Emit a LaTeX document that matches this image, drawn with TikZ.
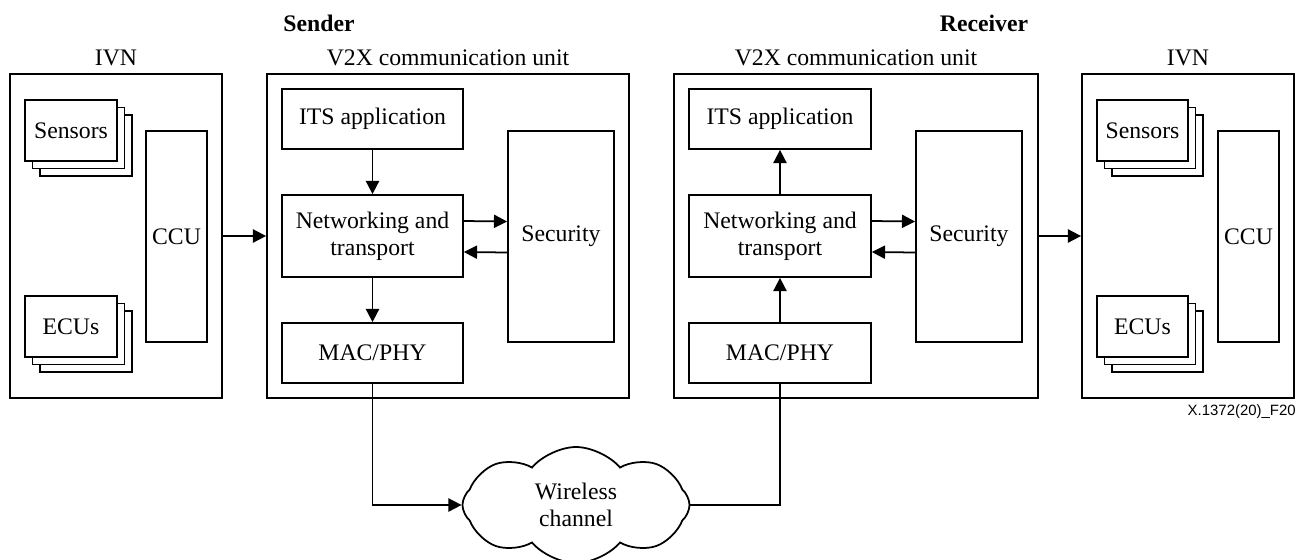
\documentclass[tikz,border=0pt]{standalone}
\usepackage{fontspec}
\setmainfont{Liberation Serif}
\newfontfamily\jelfont{Liberation Sans}
\usepackage{tikz}
\usetikzlibrary{arrows.meta,positioning,shapes.symbols,shadows}
\newdimen\px \px=0.02cm
\tikzset{
  doboz/.style={draw,line width=1pt,fill=white,inner sep=2pt,align=center},
  halom/.style={doboz,
    general shadow={draw,fill=white,line width=1pt,shadow xshift=15\px,shadow yshift=-15\px},
    general shadow={draw,fill=white,line width=1pt,shadow xshift=7.5\px,shadow yshift=-7.5\px}},
  nyil/.style={line width=1pt,-{Triangle[length=7.5pt,width=7.5pt]}},
  vonal/.style={line width=1pt},
  cim/.style={inner sep=0pt},
}
\begin{document}
\begin{tikzpicture}[x=0.02cm,y=-0.02cm,font=\fontsize{13.5}{15.3}\selectfont]
  \useasboundingbox (0,0) rectangle (1306,559);
  % sender side
  \node[doboz,minimum width=212\px,minimum height=324\px] (ivnL) at (116,236) {};
  \node[cim] at (116,58) {IVN};
  \node[halom,minimum width=92\px,minimum height=61\px] (senL) at (71,130.5) {Sensors};
  \node[halom,minimum width=92\px,minimum height=61\px] (ecuL) at (71,326.5) {ECUs};
  \node[doboz,minimum width=61\px,minimum height=211\px] (ccuL) at (176.5,236.5) {CCU};
  \node[doboz,minimum width=362\px,minimum height=324\px] (v2xS) at (448,236) {};
  \node[cim] at (448,58) {V2X communication unit};
  \node[cim,font=\fontsize{13.5}{15.3}\selectfont\bfseries] at (319,23) {Sender};
  \node[doboz,minimum width=181\px,minimum height=60\px] (itsS) at (372.5,119) {ITS application};
  \node[doboz,minimum width=181\px,minimum height=82\px] (netS) at (372.5,236) {Networking and\\transport};
  \node[doboz,minimum width=181\px,minimum height=60\px] (macS) at (372.5,353) {MAC/PHY};
  \node[doboz,minimum width=106\px,minimum height=211\px] (secS) at (561,236.5) {Security};
  % receiver side
  \node[doboz,minimum width=364\px,minimum height=324\px] (v2xR) at (856,236) {};
  \node[cim] at (856,58) {V2X communication unit};
  \node[cim,font=\fontsize{13.5}{15.3}\selectfont\bfseries] at (984,23) {Receiver};
  \node[doboz,minimum width=182\px,minimum height=60\px] (itsR) at (780,119) {ITS application};
  \node[doboz,minimum width=182\px,minimum height=82\px] (netR) at (780,236) {Networking and\\transport};
  \node[doboz,minimum width=182\px,minimum height=60\px] (macR) at (780,353) {MAC/PHY};
  \node[doboz,minimum width=106\px,minimum height=211\px] (secR) at (969,236.5) {Security};
  \node[doboz,minimum width=212\px,minimum height=324\px] (ivnR) at (1188,236) {};
  \node[cim] at (1188,58) {IVN};
  \node[halom,minimum width=91\px,minimum height=61\px] (senR) at (1142.5,130.5) {Sensors};
  \node[halom,minimum width=91\px,minimum height=61\px] (ecuR) at (1142.5,326.5) {ECUs};
  \node[doboz,minimum width=61\px,minimum height=211\px] (ccuR) at (1248.5,236.5) {CCU};
  % channel
  \node[cloud,draw,line width=1pt,cloud puffs=8,cloud puff arc=100,aspect=2,
    minimum width=227\px,minimum height=116\px,inner sep=0pt,align=center] (csat) at (576,505)
    {Wireless\\channel};
  \node[cim,anchor=east,font=\jelfont\fontsize{8.5}{10}\selectfont] (jel) at (1296,412) {X.1372(20)\_F20};
  % connectors
  \draw[nyil] (ivnL.east) -- (v2xS.west);
  \draw[nyil] (itsS) -- (netS);
  \draw[nyil] (netS) -- (macS);
  \draw[nyil] ([yshift=15\px]netS.east) -- ([yshift=15\px]secS.west);
  \draw[nyil] ([yshift=-16\px]secS.west) -- ([yshift=-16\px]netS.east);
  \draw[nyil] (netR) -- (itsR);
  \draw[nyil] (macR) -- (netR);
  \draw[nyil] ([yshift=15\px]netR.east) -- ([yshift=15\px]secR.west);
  \draw[nyil] ([yshift=-16\px]secR.west) -- ([yshift=-16\px]netR.east);
  \draw[nyil] (v2xR.east) -- (ivnR.west);
  \draw[nyil] (macS.south) |- (csat.west);
  \draw[vonal] (csat.east) -| (macR.south);
\end{tikzpicture}
\end{document}
